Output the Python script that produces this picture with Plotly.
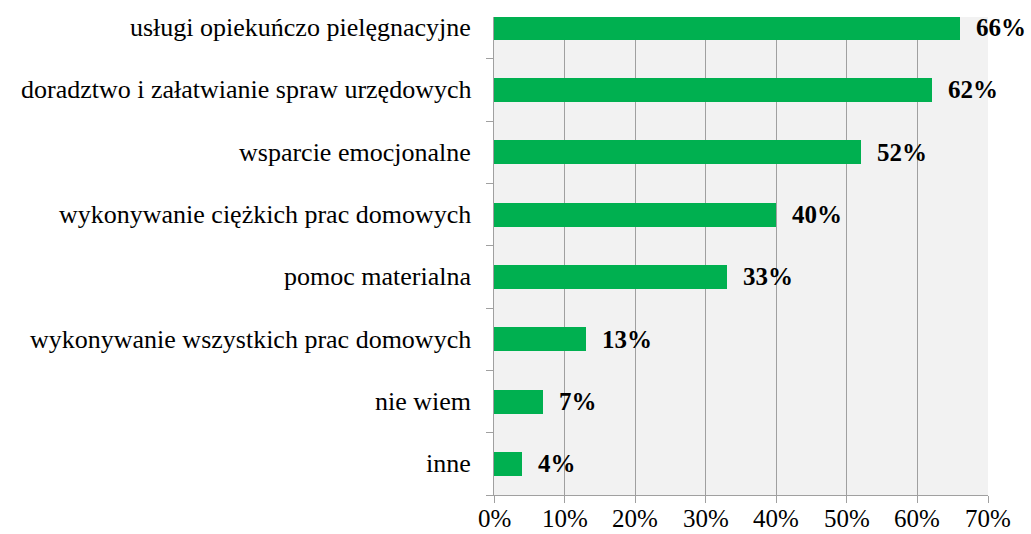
import plotly.graph_objects as go

# Categories listed bottom-to-top so the largest share sits at the top
categories = [
    "inne",
    "nie wiem",
    "wykonywanie wszystkich prac domowych",
    "pomoc materialna",
    "wykonywanie ciężkich prac domowych",
    "wsparcie emocjonalne",
    "doradztwo i załatwianie spraw urzędowych",
    "usługi opiekuńczo pielęgnacyjne",
]
shares = [4, 7, 13, 33, 40, 52, 62, 66]
tick_values = [0, 10, 20, 30, 40, 50, 60, 70]
tick_labels = ["0%", "10%", "20%", "30%", "40%", "50%", "60%", "70%"]

FONT = "Liberation Serif"
GREEN = "#00B050"
GRID = "#A0A0A0"

fig = go.Figure(
    go.Bar(
        x=shares,
        y=categories,
        orientation="h",
        marker=dict(color=GREEN, line=dict(width=0)),
        width=0.385,
        hoverinfo="skip",
    )
)

# Bold value labels just past the end of each bar
for cat, val in zip(categories, shares):
    fig.add_annotation(
        x=val, y=cat, text=f"<b>{val}%</b>", showarrow=False,
        xanchor="left", yanchor="middle", xshift=14,
        font=dict(family=FONT, size=25, color="#000000"),
    )

# Category names to the left of the axis
for cat in categories:
    fig.add_annotation(
        x=0, y=cat, text=cat, showarrow=False,
        xanchor="right", yanchor="middle", xshift=-21,
        font=dict(family=FONT, size=26, color="#000000"),
    )

# Percentage labels under the x axis
for tv, tl in zip(tick_values, tick_labels):
    fig.add_annotation(
        x=tv, y=0, yref="paper", text=tl, showarrow=False,
        xanchor="center", yanchor="top", yshift=-8,
        font=dict(family=FONT, size=25, color="#000000"),
    )

fig.update_layout(
    width=1031, height=534,
    margin=dict(l=494, r=43, t=17, b=39, autoexpand=False),
    paper_bgcolor="#FFFFFF",
    plot_bgcolor="#F2F2F2",
    showlegend=False,
    bargap=0,
    font=dict(family=FONT, size=22, color="#000000"),
)

fig.update_xaxes(
    range=[0, 70],
    tickvals=tick_values,
    showticklabels=False,
    showgrid=True, gridcolor=GRID, gridwidth=1,
    showline=True, linecolor=GRID, linewidth=1,
    ticks="outside", ticklen=7, tickcolor=GRID,
    zeroline=False,
    automargin=False,
    fixedrange=True,
)

fig.update_yaxes(
    type="category",
    range=[-0.5, 7.17],
    showgrid=False,
    showticklabels=False,
    showline=True, linecolor=GRID, linewidth=1,
    ticks="outside", ticklen=7, tickcolor=GRID,
    tickson="boundaries",
    automargin=False,
    fixedrange=True,
)

fig.write_html("out.html")
